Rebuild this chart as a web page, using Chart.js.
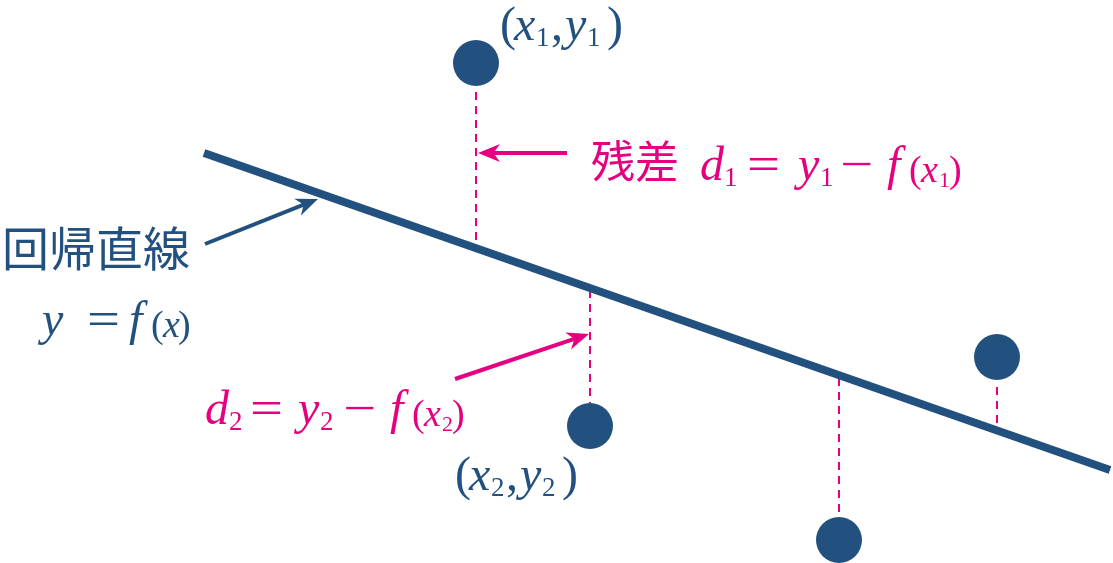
<!DOCTYPE html>
<html>
<head>
<meta charset="utf-8">
<script src="https://cdn.jsdelivr.net/npm/chart.js@4/dist/chart.umd.min.js"></script>
<style>
  html, body { margin: 0; padding: 0; background: #fff; }
  #wrap { width: 1113px; height: 563px; }
</style>
</head>
<body>
<div id="wrap"><canvas id="chart"></canvas></div>
<script>
// observed points (pixel-like units, y grows downward)
const pointX = [476, 590, 839, 997];
const pointY = [63, 426, 540, 357];

// regression line end points
const lineX = [204, 1110];
const lineY = [153, 470];

// residual dashes: from near the point to the line
const residualTop    = [92, 290, 378, 387];
const residualBottom = [246, 403, 515, 428];

// arrows [from, to]
const arrowFrom = [[567, 153], [455, 379], [205, 244]];
const arrowTo   = [[478, 153], [589, 334], [318, 199]];

const NAVY = '#23517f';
const PINK = '#e4007f';
const arrowColors = [PINK, PINK, NAVY];

const IT  = 'italic 48px "Liberation Serif"';
const RM  = '48px "Liberation Serif"';
const SUB = '27px "Liberation Serif"';
const ITS = 'italic 38px "Liberation Serif"';
const RMS = '38px "Liberation Serif"';
const SUB2 = '22px "Liberation Serif"';
const JP  = '44px "Noto Sans CJK JP"';

// label pieces: [text, x, baseline, font, color, horizontal stretch]
const labels = [
  // (x1, y1)
  ['(', 500, 40, RM, NAVY], ['x', 514, 40, IT, NAVY], ['1', 536, 46, SUB, NAVY],
  [',', 551, 40, RM, NAVY], ['y', 565, 40, IT, NAVY], ['1', 587, 46, SUB, NAVY],
  [')', 607, 40, RM, NAVY],
  // (x2, y2)
  ['(', 455, 490, RM, NAVY], ['x', 469, 490, IT, NAVY], ['2', 491, 496, SUB, NAVY],
  [',', 506, 490, RM, NAVY], ['y', 520, 490, IT, NAVY], ['2', 542, 496, SUB, NAVY],
  [')', 562, 490, RM, NAVY],
  // 残差 d1 = y1 - f(x1)
  ['残差', 591, 178, JP, PINK],
  ['d', 700, 180, IT, PINK], ['1', 724, 186, SUB, PINK],
  ['=', 747, 180, RM, PINK, 1.22],
  ['y', 798, 180, IT, PINK], ['1', 820, 186, SUB, PINK],
  ['\u2212', 840, 180, RM, PINK, 1.22],
  ['f', 887, 180, IT, PINK],
  ['(', 909, 182, RMS, PINK], ['x', 921, 182, ITS, PINK], ['1', 939, 187, SUB2, PINK],
  [')', 949, 182, RMS, PINK],
  // 回帰直線  y = f(x)
  ['回帰直線', 2, 266, '47px "Noto Sans CJK JP"', NAVY],
  ['y', 42, 335, IT, NAVY],
  ['=', 87, 335, RM, NAVY, 1.22],
  ['f', 129, 335, IT, NAVY],
  ['(', 151, 337, RMS, NAVY], ['x', 163, 337, ITS, NAVY], [')', 178, 337, RMS, NAVY],
  // d2 = y2 - f(x2)
  ['d', 205, 424, IT, PINK], ['2', 229, 430, SUB, PINK],
  ['=', 250, 424, RM, PINK, 1.22],
  ['y', 298, 424, IT, PINK], ['2', 320, 430, SUB, PINK],
  ['\u2212', 343, 424, RM, PINK, 1.22],
  ['f', 390, 424, IT, PINK],
  ['(', 412, 426, RMS, PINK], ['x', 424, 426, ITS, PINK], ['2', 442, 431, SUB2, PINK],
  [')', 452, 426, RMS, PINK]
];

const arrowPlugin = {
  id: 'arrows',
  afterDatasetsDraw(chart) {
    const ctx = chart.ctx, xs = chart.scales.x, ys = chart.scales.y;
    ctx.save();
    arrowFrom.forEach(function(f, i) {
      const x1 = xs.getPixelForValue(f[0]), y1 = ys.getPixelForValue(f[1]);
      const x2 = xs.getPixelForValue(arrowTo[i][0]), y2 = ys.getPixelForValue(arrowTo[i][1]);
      const a = Math.atan2(y2 - y1, x2 - x1);
      const len = 22, half = 9;
      ctx.strokeStyle = ctx.fillStyle = arrowColors[i];
      ctx.lineWidth = 4;
      ctx.beginPath();
      ctx.moveTo(x1, y1);
      ctx.lineTo(x2 - Math.cos(a) * 10, y2 - Math.sin(a) * 10);
      ctx.stroke();
      ctx.beginPath();
      ctx.moveTo(x2, y2);
      ctx.lineTo(x2 - Math.cos(a) * len - Math.sin(a) * half, y2 - Math.sin(a) * len + Math.cos(a) * half);
      ctx.lineTo(x2 - Math.cos(a) * len * 0.7, y2 - Math.sin(a) * len * 0.7);
      ctx.lineTo(x2 - Math.cos(a) * len + Math.sin(a) * half, y2 - Math.sin(a) * len - Math.cos(a) * half);
      ctx.closePath();
      ctx.fill();
    });
    ctx.restore();
  }
};

const labelPlugin = {
  id: 'labels',
  afterDraw(chart) {
    const ctx = chart.ctx, xs = chart.scales.x, ys = chart.scales.y;
    labels.forEach(function(l) {
      ctx.save();
      ctx.textBaseline = 'alphabetic';
      ctx.textAlign = 'left';
      ctx.font = l[3];
      ctx.fillStyle = l[4];
      ctx.translate(xs.getPixelForValue(l[1]), ys.getPixelForValue(l[2]));
      ctx.scale(l[5] || 1, 1);
      ctx.fillText(l[0], 0, 0);
      ctx.restore();
    });
  }
};

const residualSets = pointX.map(function(x, i) {
  return {
    type: 'line',
    data: [{ x: x, y: residualTop[i] }, { x: x, y: residualBottom[i] }],
    borderColor: PINK, borderWidth: 2, borderDash: [8, 6],
    pointRadius: 0, order: 3, clip: false
  };
});

new Chart(document.getElementById('chart'), {
  type: 'scatter',
  data: {
    datasets: residualSets.concat([
      {
        type: 'line',
        data: lineX.map(function(x, i) { return { x: x, y: lineY[i] }; }),
        borderColor: NAVY, borderWidth: 8, borderCapStyle: 'butt',
        pointRadius: 0, order: 2, clip: false
      },
      {
        data: pointX.map(function(x, i) { return { x: x, y: pointY[i] }; }),
        backgroundColor: NAVY, borderWidth: 0,
        pointRadius: 23, pointHoverRadius: 23, order: 1, clip: false
      }
    ])
  },
  options: {
    responsive: true,
    maintainAspectRatio: false,
    animation: false,
    layout: { padding: 0, autoPadding: false },
    plugins: { legend: { display: false }, tooltip: { enabled: false } },
    scales: {
      x: { type: 'linear', min: 0, max: 1113, display: false },
      y: { type: 'linear', min: 0, max: 563, reverse: true, display: false }
    }
  },
  plugins: [arrowPlugin, labelPlugin]
});
</script>
</body>
</html>
